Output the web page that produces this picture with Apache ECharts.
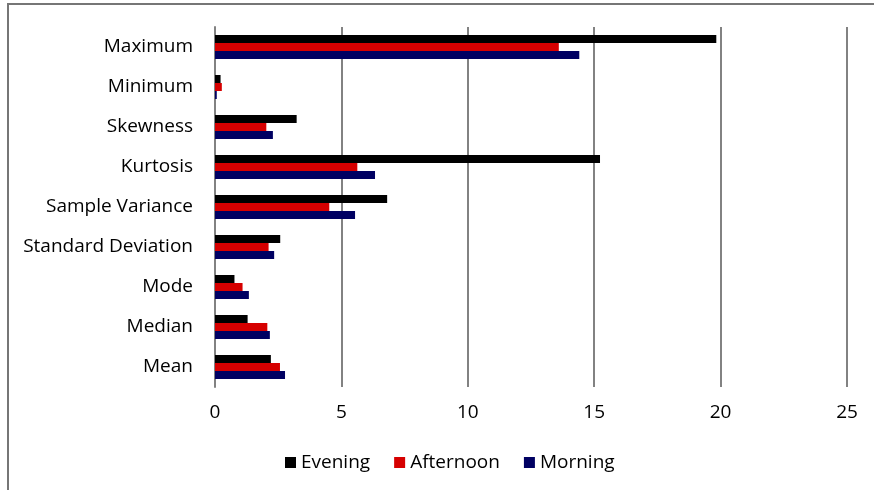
<!DOCTYPE html>
<html>
<head>
<meta charset="utf-8">
<script src="https://cdn.jsdelivr.net/npm/echarts@6/dist/echarts.min.js"></script>
<style>
html,body{margin:0;padding:0;background:#fff;}
#c{width:874px;height:490px;}
</style>
</head>
<body>
<div id="c"></div>
<script>
// Categories bottom-to-top (ECharts category yAxis starts at bottom)
var categories = ['Mean', 'Median', 'Mode', 'Standard Deviation', 'Sample Variance', 'Kurtosis', 'Skewness', 'Minimum', 'Maximum'];
var evening   = [2.21, 1.29, 0.77, 2.58, 6.81, 15.23, 3.23, 0.22, 19.83];
var afternoon = [2.57, 2.07, 1.09, 2.12, 4.52, 5.63, 2.03, 0.27, 13.6];
var morning   = [2.77, 2.17, 1.34, 2.34, 5.54, 6.33, 2.29, 0.07, 14.41];
var xTicks = [0, 5, 10, 15, 20, 25];

var FONT = 'Open Sans';
var chart = echarts.init(document.getElementById('c'), null, {renderer: 'canvas'});
chart.setOption({
  backgroundColor: '#ffffff',
  animation: false,
  graphic: [{
    type: 'rect',
    shape: {x: 8, y: 4, width: 900, height: 520},
    style: {fill: 'none', stroke: '#767676', lineWidth: 2},
    silent: true
  }],
  legend: {
    data: ['Evening', 'Afternoon', 'Morning'],
    left: 280, top: 448,
    itemWidth: 11, itemHeight: 11, itemGap: 24,
    icon: 'rect',
    textStyle: {fontFamily: FONT, fontSize: 19, color: '#000'}
  },
  grid: {left: 215, right: 27, top: 27, bottom: 103, containLabel: false},
  xAxis: {
    type: 'value', min: xTicks[0], max: xTicks[xTicks.length - 1], interval: 5,
    axisLine: {show: false}, axisTick: {show: false},
    splitLine: {show: true, lineStyle: {color: '#828282', width: 2}},
    axisLabel: {fontFamily: FONT, fontSize: 19, color: '#000', margin: 16}
  },
  yAxis: {
    type: 'category', data: categories,
    axisLine: {show: true, lineStyle: {color: '#828282', width: 2}},
    axisTick: {show: false},
    axisLabel: {fontFamily: FONT, fontSize: 19, color: '#000', margin: 22}
  },
  series: [
    {name: 'Evening', type: 'bar', data: evening, barGap: '0%', barCategoryGap: '40%',
     itemStyle: {color: '#000000'}},
    {name: 'Afternoon', type: 'bar', data: afternoon, barGap: '0%', barCategoryGap: '40%',
     itemStyle: {color: '#d60000'}},
    {name: 'Morning', type: 'bar', data: morning, barGap: '0%', barCategoryGap: '40%',
     itemStyle: {color: '#000062'}}
  ]
});
</script>
</body>
</html>
